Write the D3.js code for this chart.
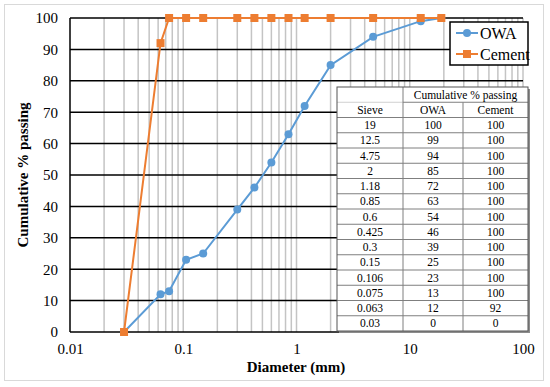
<!DOCTYPE html>
<meta charset="utf-8">
<head>
    <title>Cumulative passing</title>
    <script src="https://cdn.jsdelivr.net/npm/d3@7"></script>
    <style>
        body { margin: 0; background: #fff; }
        svg text { font-family: "Liberation Serif", Tinos, "Times New Roman", serif !important; }
    </style>
</head>
<body>
<script>

// data
var sieve = [0.03, 0.063, 0.075, 0.106, 0.15, 0.3, 0.425, 0.6, 0.85, 1.18, 2, 4.75, 12.5, 19]
var owa = [0, 12, 13, 23, 25, 39, 46, 54, 63, 72, 85, 94, 99, 100]
var cement = [0, 92, 100, 100, 100, 100, 100, 100, 100, 100, 100, 100, 100, 100]
var sieveLabels = ["0.03", "0.063", "0.075", "0.106", "0.15", "0.3", "0.425", "0.6", "0.85", "1.18", "2", "4.75", "12.5", "19"]
var xTicks = [0.01, 0.1, 1, 10, 100]
var yTicks = [0, 10, 20, 30, 40, 50, 60, 70, 80, 90, 100]

var w = 550
var h = 387
var pLeft = 70, pRight = 523, pTop = 18, pBottom = 332

var svg = d3.select("body").append("svg").attr("width", w).attr("height", h)

// outer frame
svg.append("rect")
    .attr("x", 4.5).attr("y", 4.5)
    .attr("width", 539).attr("height", 376)
    .attr("fill", "white").attr("stroke", "#d9d9d9").attr("stroke-width", 1)

var x = d3.scaleLog().domain([0.01, 100]).range([pLeft, pRight])
var y = d3.scaleLinear().domain([0, 100]).range([pBottom, pTop])

// minor vertical grid
var minor = []
for (var d = 0.01; d < 100; d *= 10) {
    for (var k = 2; k <= 9; k++) minor.push(d * k)
}
svg.append("g").selectAll("line")
    .data(minor.concat([0.1, 1, 10, 100])).enter()
    .append("line")
    .attr("x1", function(d) {return x(d)}).attr("x2", function(d) {return x(d)})
    .attr("y1", pTop).attr("y2", pBottom)
    .style("stroke", "#c4c4c4").style("stroke-width", 1.5)

// horizontal grid
svg.append("g").selectAll("line")
    .data(yTicks).enter()
    .append("line")
    .attr("x1", pLeft).attr("x2", pRight)
    .attr("y1", function(d) {return y(d)}).attr("y2", function(d) {return y(d)})
    .style("stroke", "black").style("stroke-width", 1.5)

svg.append("line")
    .attr("x1", pLeft).attr("x2", pLeft).attr("y1", pTop).attr("y2", pBottom)
    .style("stroke", "black").style("stroke-width", 1.5)

// axes
var xAxis = svg.append("g")
    .attr("transform", "translate(0," + pBottom + ")")
    .call(d3.axisBottom(x).tickValues(xTicks).tickSize(0).tickPadding(11).tickFormat(d3.format("~g")))
xAxis.select(".domain").remove()
xAxis.selectAll("text").style("font-size", "15px").attr("fill", "black")

var yAxis = svg.append("g")
    .attr("transform", "translate(" + pLeft + ",0)")
    .call(d3.axisLeft(y).tickValues(yTicks).tickSize(0).tickPadding(12))
yAxis.select(".domain").remove()
yAxis.selectAll("text").style("font-size", "15px").attr("fill", "black")

svg.append("text")
    .attr("x", 296).attr("y", 372)
    .attr("text-anchor", "middle")
    .style("font-size", "15px").style("font-weight", "bold")
    .text("Diameter (mm)")

svg.append("text")
    .attr("transform", "translate(28," + (pTop + pBottom) / 2 + ") rotate(-90)")
    .attr("text-anchor", "middle")
    .style("font-size", "15px").style("font-weight", "bold")
    .text("Cumulative % passing")

// series
var line = d3.line().x(function(d) {return x(d[0])}).y(function(d) {return y(d[1])})
var owaPts = d3.zip(sieve, owa)
var cemPts = d3.zip(sieve, cement)

svg.append("path").attr("d", line(owaPts))
    .attr("fill", "none").attr("stroke", "#5b9bd5").attr("stroke-width", 2)
svg.append("g").selectAll("circle")
    .data(owaPts).enter()
    .append("circle")
    .attr("cx", function(d) {return x(d[0])}).attr("cy", function(d) {return y(d[1])})
    .attr("r", 4).attr("fill", "#5b9bd5")

svg.append("path").attr("d", line(cemPts))
    .attr("fill", "none").attr("stroke", "#ed7d31").attr("stroke-width", 2)
svg.append("g").selectAll("rect")
    .data(cemPts).enter()
    .append("rect")
    .attr("x", function(d) {return x(d[0]) - 4}).attr("y", function(d) {return y(d[1]) - 4})
    .attr("width", 8).attr("height", 8).attr("fill", "#ed7d31")

// legend
var lg = svg.append("g")
lg.append("rect").attr("x", 450).attr("y", 22).attr("width", 78).attr("height", 43)
    .attr("fill", "white").attr("stroke", "black").attr("stroke-width", 1.5)
lg.append("line").attr("x1", 456).attr("x2", 478).attr("y1", 33).attr("y2", 33)
    .attr("stroke", "#5b9bd5").attr("stroke-width", 2)
lg.append("circle").attr("cx", 467).attr("cy", 33).attr("r", 4).attr("fill", "#5b9bd5")
lg.append("text").attr("x", 480).attr("y", 38.5).style("font-size", "16px").text("OWA")
lg.append("line").attr("x1", 456).attr("x2", 478).attr("y1", 54).attr("y2", 54)
    .attr("stroke", "#ed7d31").attr("stroke-width", 2)
lg.append("rect").attr("x", 463).attr("y", 50).attr("width", 8).attr("height", 8).attr("fill", "#ed7d31")
lg.append("text").attr("x", 480).attr("y", 59.5).style("font-size", "16px").text("Cement")

// table
var tx = 337, ty = 87, rh = 15.25
var cols = [337, 403, 463, 528]
var rows = d3.range(sieve.length).reverse().map(function(i) {return [sieveLabels[i], owa[i], cement[i]]})
var tb = svg.append("g")
var tw = cols[3] - tx, th = rh * (rows.length + 2)
tb.append("rect").attr("x", tx + 2).attr("y", ty + 2).attr("width", tw).attr("height", th).attr("fill", "#8c8c8c")
tb.append("rect").attr("x", tx).attr("y", ty).attr("width", tw).attr("height", th).attr("fill", "white")
// row lines
for (var r = 1; r < rows.length + 2; r++) {
    tb.append("line")
        .attr("x1", r == 1 ? cols[1] : tx).attr("x2", cols[3])
        .attr("y1", ty + r * rh).attr("y2", ty + r * rh)
        .attr("stroke", "#7f7f7f").attr("stroke-width", 1)
}
tb.append("line").attr("x1", tx).attr("x2", cols[1]).attr("y1", ty + rh).attr("y2", ty + rh)
    .attr("stroke", "#d0d0d0").attr("stroke-width", 1)
tb.append("line").attr("x1", cols[1]).attr("x2", cols[1]).attr("y1", ty).attr("y2", ty + th)
    .attr("stroke", "#7f7f7f").attr("stroke-width", 1)
tb.append("line").attr("x1", cols[2]).attr("x2", cols[2]).attr("y1", ty + rh).attr("y2", ty + th)
    .attr("stroke", "#7f7f7f").attr("stroke-width", 1)
tb.append("rect").attr("x", tx).attr("y", ty).attr("width", tw).attr("height", th)
    .attr("fill", "none").attr("stroke", "#555").attr("stroke-width", 1)

function cell(txt, c0, c1, r) {
    tb.append("text")
        .attr("x", (c0 + c1) / 2).attr("y", ty + r * rh + rh / 2 + 4)
        .attr("text-anchor", "middle")
        .style("font-size", "11.5px")
        .text(txt)
}
cell("Cumulative % passing", cols[1], cols[3], 0)
cell("Sieve", cols[0], cols[1], 1)
cell("OWA", cols[1], cols[2], 1)
cell("Cement", cols[2], cols[3], 1)
rows.forEach(function(row, i) {
    cell(row[0], cols[0], cols[1], i + 2)
    cell(row[1], cols[1], cols[2], i + 2)
    cell(row[2], cols[2], cols[3], i + 2)
})

</script>
</body>
</html>
